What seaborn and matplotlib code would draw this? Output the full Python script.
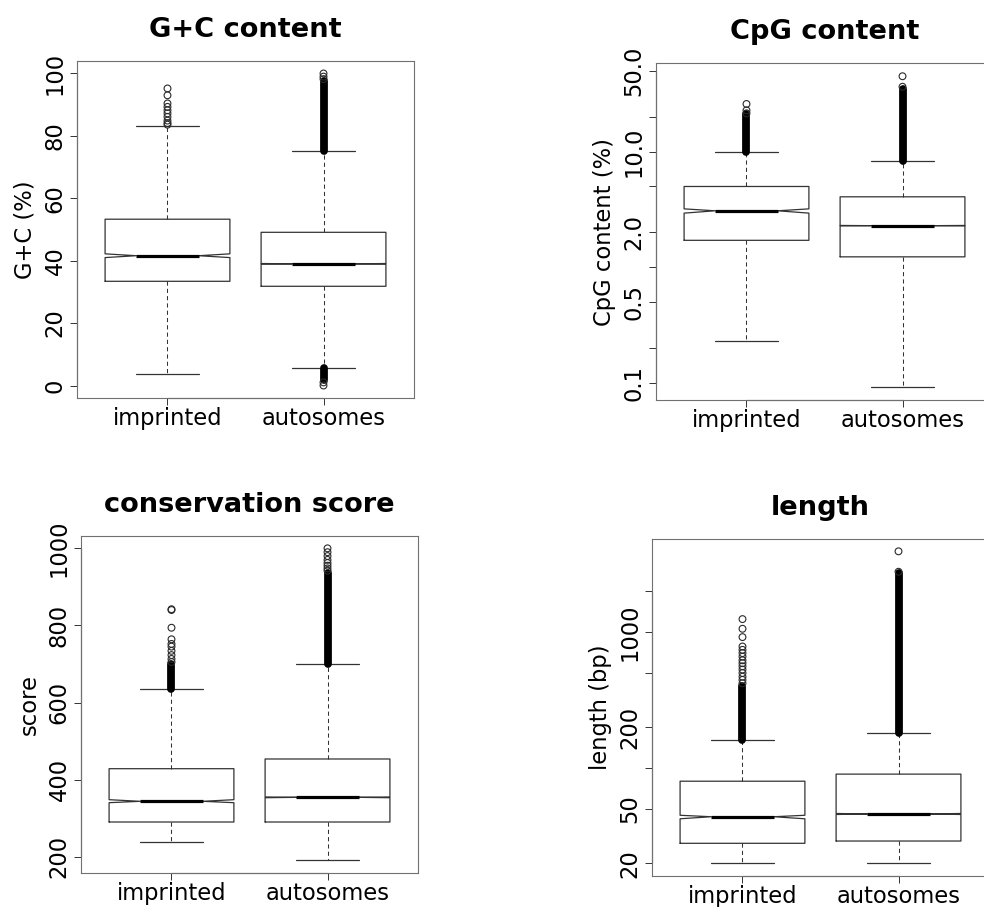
import matplotlib
matplotlib.use("Agg")
import matplotlib.pyplot as plt
import matplotlib.transforms as mtransforms
from matplotlib.ticker import NullLocator
import pandas as pd
import seaborn as sns

sns.set_theme(style="white")
plt.rcParams["font.family"] = ["DejaVu Sans"]
plt.rcParams["text.color"] = "black"
plt.rcParams["axes.labelcolor"] = "black"
plt.rcParams["xtick.color"] = "black"
plt.rcParams["ytick.color"] = "black"

groups = ["imprinted", "autosomes"]
positions = [1, 2]

# ---- G+C content (%) : [imprinted, autosomes]
gc_whislo = [3.75, 5.55]
gc_q1 = [33.4, 31.8]
gc_med = [41.6, 39.0]
gc_cilo = [41.0, 38.9]
gc_cihi = [42.2, 39.1]
gc_q3 = [53.3, 49.1]
gc_whishi = [83.2, 75.2]
gc_outliers = [[95.2, 93.0, 90.4, 89.3, 88.2, 87.2, 86.1, 84.9, 84.1, 83.6],
               [100.0, 99.0, 98.2, 1.0, 0.0]]
gc_dense = [[], [(75.2, 97.5), (1.8, 5.5)]]

# ---- CpG content (%)
cpg_whislo = [0.231, 0.0911]
cpg_q1 = [1.71, 1.23]
cpg_med = [3.08, 2.29]
cpg_cilo = [2.94, 2.28]
cpg_cihi = [3.20, 2.30]
cpg_q3 = [5.0, 4.07]
cpg_whishi = [10.0, 8.31]
cpg_outliers = [[25.9, 22.8, 21.5], [45.0, 36.5]]
cpg_dense = [[(10.0, 21.0)], [(8.31, 35.0)]]

# ---- conservation score
cons_whislo = [237.3, 191.4]
cons_q1 = [290.0, 290.0]
cons_med = [343.7, 354.0]
cons_cilo = [340.1, 353.0]
cons_cihi = [347.9, 355.0]
cons_q3 = [428.3, 453.5]
cons_whishi = [636.0, 700.0]
cons_outliers = [[842, 840, 794, 764, 752, 745, 734, 723, 713, 705],
                 [1000, 990, 980, 970, 962, 955, 948, 942]]
cons_dense = [[(636.0, 700.0)], [(700.0, 935.0)]]

# ---- length (bp)
len_whislo = [20.0, 20.0]
len_q1 = [28.0, 29.1]
len_med = [43.9, 46.0]
len_cilo = [42.4, 45.6]
len_cihi = [45.0, 46.4]
len_q3 = [80.1, 90.3]
len_whishi = [160.0, 182.0]
len_outliers = [[1245, 1057, 918, 783, 740, 700, 660, 620, 590, 560, 530, 500,
                 470, 445, 420],
                [3920, 2775]]
len_dense = [[(160.0, 398.0)], [(182.0, 2700.0)]]

# axis ticks and labels
gc_ticks = [0, 20, 40, 60, 80, 100]
gc_ticklabels = ["0", "20", "40", "60", "80", "100"]
cpg_ticks = [0.1, 0.2, 0.5, 1, 2, 5, 10, 20, 50]
cpg_ticklabels = ["0.1", "", "0.5", "", "2.0", "", "10.0", "", "50.0"]
cons_ticks = [200, 400, 600, 800, 1000]
cons_ticklabels = ["200", "400", "600", "800", "1000"]
len_ticks = [20, 50, 100, 200, 500, 1000, 2000]
len_ticklabels = ["20", "50", "", "200", "", "1000", ""]

W, H = 984, 907
fig = plt.figure(figsize=(W / 100, H / 100), dpi=100)

BASE = 16.3
TITLE = 19.6
LINE = "#333333"
FRAME = "#707070"


def px_axes(left, top, width=337, height=337):
    return fig.add_axes([left / W, 1 - (top + height) / H, width / W, height / H])


def draw_panel(ax, whislo, q1, med, cilo, cihi, q3, whishi, outliers, dense,
               title, ylabel, ticks, ticklabels, ylim, log=False):
    if log:
        ax.set_yscale("log")
    stats = []
    for i in range(2):
        stats.append(dict(label=groups[i], whislo=whislo[i], q1=q1[i], med=med[i],
                          q3=q3[i], whishi=whishi[i], cilo=cilo[i], cihi=cihi[i],
                          fliers=[]))
    ax.bxp(stats, positions=positions, widths=0.8, shownotches=True,
           showfliers=False, manage_ticks=False,
           boxprops=dict(color=LINE, lw=0.9),
           medianprops=dict(color="black", lw=2.3, solid_capstyle="butt"),
           whiskerprops=dict(color=LINE, lw=0.75, linestyle=(0, (4, 3))),
           capprops=dict(color=LINE, lw=0.9))

    # heavily overplotted outlier runs show as a solid column of circles
    for pos, runs in zip(positions, dense):
        for lo, hi in runs:
            ax.plot([pos, pos], [lo, hi], color="black", lw=5.6,
                    solid_capstyle="round", zorder=3)

    rows = [(pos, v) for pos, vals in zip(positions, outliers) for v in vals]
    df = pd.DataFrame(rows, columns=["pos", "value"])
    sns.scatterplot(data=df, x="pos", y="value", ax=ax, marker="o", s=24,
                    facecolor="none", edgecolor="#2a2a2a", linewidth=0.8,
                    zorder=4, legend=False)

    ax.set_xlim(0.42, 2.58)
    ax.set_ylim(*ylim)
    ax.set_xticks(positions, groups, fontsize=BASE, color="black")
    ax.set_yticks(ticks, ticklabels, fontsize=BASE, rotation=90, va="center",
                  color="black")
    if log:
        ax.yaxis.set_minor_locator(NullLocator())
    ax.tick_params(axis="x", length=5, width=0.7, color=LINE, pad=1.2,
                   bottom=True)
    ax.tick_params(axis="y", length=5, width=0.7, color=LINE, pad=2.4,
                   left=True)
    ax.set_xlabel("")
    ax.set_ylabel(ylabel, fontsize=BASE, va="center", color="black")
    ax.yaxis.set_label_coords(-52 / 337, 0.5)
    ax.set_title(title, fontsize=TITLE, fontweight="bold", pad=17.5,
                 color="black")
    for sp in ax.spines.values():
        sp.set_visible(True)
        sp.set_color(FRAME)
        sp.set_linewidth(0.8)
    # axis lines spanning the tick range
    tx = mtransforms.blended_transform_factory(ax.transData, ax.transAxes)
    ax.plot([positions[0], positions[-1]], [0, 0], transform=tx, color=LINE,
            lw=0.8, clip_on=False)
    ty = mtransforms.blended_transform_factory(ax.transAxes, ax.transData)
    ax.plot([0, 0], [ticks[0], ticks[-1]], transform=ty, color=LINE, lw=0.8,
            clip_on=False)


ax1 = px_axes(77, 61)
draw_panel(ax1, gc_whislo, gc_q1, gc_med, gc_cilo, gc_cihi, gc_q3, gc_whishi,
           gc_outliers, gc_dense, "G+C content", "G+C (%)",
           gc_ticks, gc_ticklabels, (-4.0, 104.0))

ax2 = px_axes(656, 63)
draw_panel(ax2, cpg_whislo, cpg_q1, cpg_med, cpg_cilo, cpg_cihi, cpg_q3,
           cpg_whishi, cpg_outliers, cpg_dense, "CpG content",
           "CpG content (%)", cpg_ticks, cpg_ticklabels, (0.0709, 58.6),
           log=True)

ax3 = px_axes(81, 536)
draw_panel(ax3, cons_whislo, cons_q1, cons_med, cons_cilo, cons_cihi, cons_q3,
           cons_whishi, cons_outliers, cons_dense, "conservation score",
           "score", cons_ticks, cons_ticklabels, (157.7, 1032.0))

ax4 = px_axes(652, 539)
draw_panel(ax4, len_whislo, len_q1, len_med, len_cilo, len_cihi, len_q3,
           len_whishi, len_outliers, len_dense, "length", "length (bp)",
           len_ticks, len_ticklabels, (16.1, 4830.0), log=True)

fig.savefig("out.png", dpi=100, facecolor="white")
